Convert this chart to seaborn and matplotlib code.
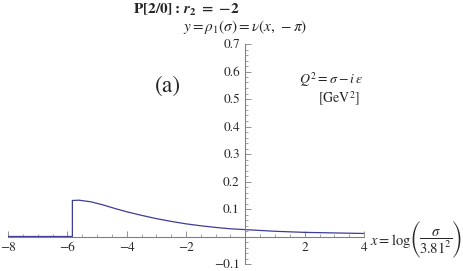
import numpy as np
import pandas as pd
import seaborn as sns
import matplotlib.pyplot as plt
from matplotlib.ticker import MultipleLocator, FixedLocator

# values
x_vals = [-8.0, -5.83, -5.83, -5.6, -5.2, -4.8, -4.4, -4.0, -3.5, -3.0, -2.5,
          -2.0, -1.5, -1.0, -0.5, 0.0, 0.5, 1.0, 1.5, 2.0, 2.5, 3.0, 3.5, 4.0]
y_vals = [0.0, 0.0, 0.131, 0.132, 0.126, 0.115, 0.102, 0.090, 0.077, 0.065, 0.055,
          0.046, 0.039, 0.033, 0.028, 0.025, 0.022, 0.019, 0.017, 0.015, 0.014,
          0.013, 0.012, 0.011]
x_major = [-8, -6, -4, -2, 2, 4]
y_major = [-0.1, 0.1, 0.2, 0.3, 0.4, 0.5, 0.6, 0.7]

data = pd.DataFrame({'x': x_vals, 'y': y_vals})

sns.set_theme(style='white')
plt.rcParams['font.family'] = ['STIXGeneral', 'DejaVu Sans']
plt.rcParams['mathtext.fontset'] = 'stix'

fig = plt.figure(figsize=(4.63, 2.71), dpi=100)
ax = fig.add_axes([8/463, 7/271, 356/463, 220/271])

sns.lineplot(data=data, x='x', y='y', estimator=None, sort=False,
             color='#3d3d99', linewidth=0.9, ax=ax)

ax.set_xlim(-8, 4)
ax.set_ylim(-0.1, 0.7)
ax.set_xlabel('')
ax.set_ylabel('')

# Mathematica style axes crossing at the origin
for s in ['top', 'right']:
    ax.spines[s].set_visible(False)
ax.spines['left'].set_position(('data', 0))
ax.spines['bottom'].set_position(('data', 0))
for s in ['left', 'bottom']:
    ax.spines[s].set_color('#808080')
    ax.spines[s].set_linewidth(0.8)

ax.xaxis.set_major_locator(FixedLocator(x_major))
ax.yaxis.set_major_locator(FixedLocator(y_major))
ax.set_xticklabels(['\u2212' + str(abs(v)) if v < 0 else str(v) for v in x_major])
ax.set_yticklabels(['\u2212' + str(abs(v)) if v < 0 else str(v) for v in y_major])
ax.xaxis.set_minor_locator(MultipleLocator(0.5))
ax.yaxis.set_minor_locator(MultipleLocator(0.02))
ax.tick_params(which='both', direction='in', color='#808080', labelsize=9.5,
               bottom=True, left=True, pad=4)
ax.tick_params(which='major', length=4, width=0.6)
ax.tick_params(which='minor', length=2.2, width=0.5)

fig.text(186/463, 1 - 10/271,
         r'$\mathbf{P[2/0]:}\,\mathbfit{r}_{\mathbf{2}}\mathbf{\ =\ }\mathbf{{-}2}$',
         ha='center', va='center', fontsize=11)
fig.text(245/463, 1 - 27/271, r'$y=\rho_1(\sigma)=\nu(x,\,-\pi)$',
         ha='center', va='center', fontsize=11)
fig.text(168/463, 1 - 86/271, '(a)', ha='center', va='center', fontsize=17)
fig.text(331/463, 1 - 80/271, r'$Q^2=\sigma-i\,\epsilon$',
         ha='center', va='center', fontsize=10)
fig.text(339/463, 1 - 99/271, r'$\left[\mathrm{GeV}^2\right]$',
         ha='center', va='center', fontsize=10)

# x axis label built from pieces so the brackets can be tall
fig.text(411/463, 1 - 241/271, r'$x=\log$', ha='right', va='center', fontsize=10.5)
fig.text(415/463, 1 - 240/271, '(', family='STIXSizeThreeSym',
         ha='center', va='center', fontsize=10.5)
fig.text(457/463, 1 - 240/271, ')', family='STIXSizeThreeSym',
         ha='center', va='center', fontsize=10.5)
fig.text(436/463, 1 - 242/271, r'$\dfrac{\sigma}{3.81^2}$',
         ha='center', va='center', fontsize=10.5)

fig.savefig('out.png', dpi=100)
